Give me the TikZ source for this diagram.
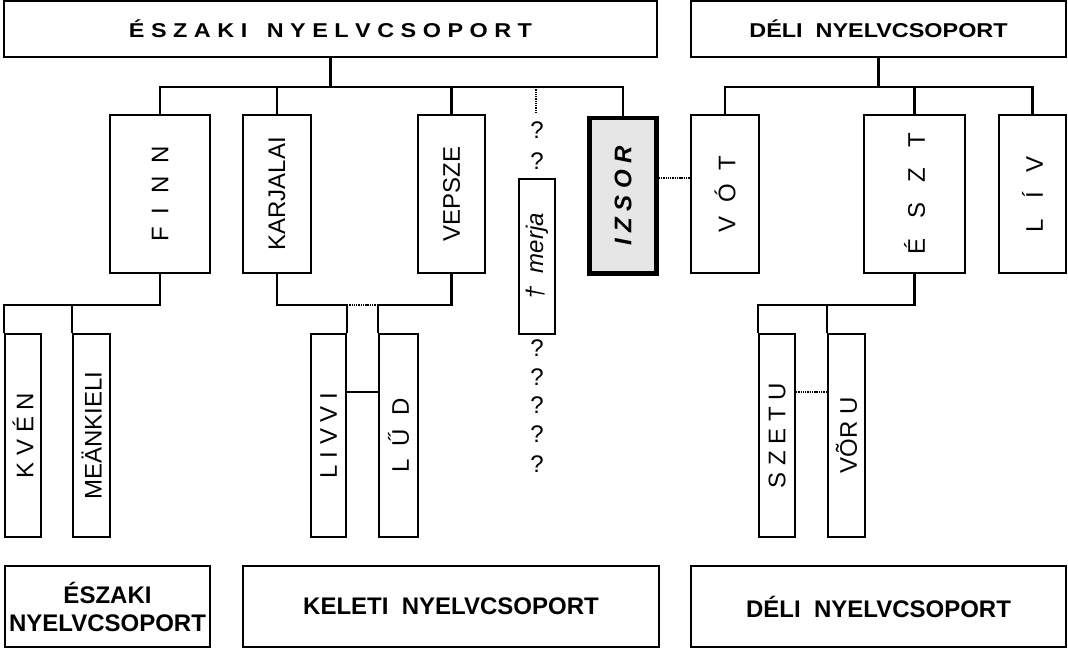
\documentclass[tikz,border=0pt]{standalone}
\usepackage{fontspec}
\setmainfont{Liberation Sans}
\usepackage{graphicx}
\usepackage{tikz}
\usetikzlibrary{fit}
\definecolor{izsorgray}{HTML}{E6E6E6}

\begin{document}
\begin{tikzpicture}[x=0.75pt, y=-0.75pt, line width=1.6pt,
    box/.style={draw, inner sep=0pt},
    txt/.style={inner sep=0pt, font=\fontsize{18}{21}\selectfont},
    headtxt/.style={inner sep=0pt, font=\bfseries\fontsize{15}{18}\selectfont},
    foottxt/.style={inner sep=0pt, align=center, font=\bfseries\fontsize{18}{21}\selectfont},
    dotline/.style={line width=1.1pt, dash pattern=on 1pt off 0.7pt},
    qmark/.style={inner sep=0pt, font=\fontsize{18}{21}\selectfont}]
    \useasboundingbox (0,0) rectangle (1068,649);

    % group headers
    \node[box, fit={(4,1) (657,57)},
          label={[headtxt]center:\scalebox{1.17}[1]{É S Z A K I~~~N Y E L V C S O P O R T}}] (north) {};
    \node[box, fit={(691,1) (1066,57)},
          label={[headtxt]center:\scalebox{1.17}[1]{DÉLI~~NYELVCSOPORT}}] (south) {};

    % languages
    \node[box, fit={(110,115) (210,273)}, label={[txt]center:\rotatebox{90}{F~~I~~N~~N}}] (finn) {};
    \node[box, fit={(243,115) (311,273)}, label={[txt]center:\rotatebox{90}{KARJALAI}}] (karjalai) {};
    \node[box, fit={(418,115) (485,273)}, label={[txt]center:\rotatebox{90}{VEPSZE}}] (vepsze) {};
    \node[box, fit={(519,179) (555,334)}, label={[txt]center:\rotatebox{90}{\itshape †~~merja}}] (merja) {};
    \node[box, fill=izsorgray, line width=3.4pt, fit={(589.5,118) (656.5,273.5)},
          label={[txt]center:\rotatebox{90}{\bfseries\itshape I Z S O R}}] (izsor) {};
    \node[box, fit={(691,115) (759,273)}, label={[txt]center:\rotatebox{90}{V~~Ó~~T}}] (vot) {};
    \node[box, fit={(864,115) (965,273)}, label={[txt]center:\rotatebox{90}{É~~~S~~~Z~~~T}}] (eszt) {};
    \node[box, fit={(999,115) (1066,273)}, label={[txt]center:\rotatebox{90}{L~~~Í~~~V}}] (liv) {};

    % dialects
    \node[box, fit={(5,334) (41,537)}, label={[txt]center:\rotatebox{90}{K V É N}}] (kven) {};
    \node[box, fit={(73,334) (110,537)}, label={[txt]center:\rotatebox{90}{MEÄNKIELI}}] (meank) {};
    \node[box, fit={(311,334) (346,537)}, label={[txt]center:\rotatebox{90}{L I V V I}}] (livvi) {};
    \node[box, fit={(379,334) (418,537)}, label={[txt]center:\rotatebox{90}{L~~Ű~~D}}] (lud) {};
    \node[box, fit={(759,334) (795,537)}, label={[txt]center:\rotatebox{90}{S Z E T U}}] (szetu) {};
    \node[box, fit={(828,334) (865,537)}, label={[txt]center:\rotatebox{90}{VÕR U}}] (voru) {};

    % bottom groups
    \node[box, fit={(5,566) (210,647)}, label={[foottxt]center:ÉSZAKI\\NYELVCSOPORT}] (fnorth) {};
    \node[box, fit={(243,566) (659,647)}, label={[foottxt]center:KELETI~~NYELVCSOPORT}] (feast) {};
    \node[box, fit={(691,566) (1066,647)}, label={[foottxt]center:DÉLI~~NYELVCSOPORT}] (fsouth) {};

    \foreach \y [count=\i] in {130,161,348,377,405,434,464}
        \node[qmark] (q\i) at (537,\y) {?};

    \coordinate (topbar) at (0,87);
    \coordinate (lowbar) at (0,305);
    \coordinate (midbar) at (0,392);
    \coordinate (izbar) at (0,178);
    \coordinate (stub) at (536,113);

    % tree lines
    \draw (north.south) -- (north.south |- topbar);
    \draw (finn.north) |- (izsor.north |- topbar) -- (izsor.north);
    \draw (karjalai.north) -- (karjalai.north |- topbar);
    \draw (vepsze.north) -- (vepsze.north |- topbar);
    \draw[dotline, line width=1.8pt] (stub |- topbar) -- (stub);

    \draw (south.south) -- (south.south |- topbar);
    \draw (vot.north) |- (liv.north |- topbar) -- (liv.north);
    \draw (eszt.north) -- (eszt.north |- topbar);

    \draw (finn.south) -- (finn.south |- lowbar) -| (kven.north west);
    \draw (meank.north west) -- (meank.north west |- lowbar);
    \draw (karjalai.south) -- (karjalai.south |- lowbar) -| (livvi.north east);
    \draw (vepsze.south) -- (vepsze.south |- lowbar) -| (lud.north west);
    \draw[dotline] (livvi.north east |- lowbar) -- (lud.north west |- lowbar);
    \draw (livvi.east |- midbar) -- (lud.west |- midbar);

    \draw (eszt.south) -- (eszt.south |- lowbar) -| (szetu.north west);
    \draw (voru.north west) -- (voru.north west |- lowbar);
    \draw[dotline] (szetu.east |- midbar) -- (voru.west |- midbar);

    \draw[dotline] (izsor.east |- izbar) -- (vot.west |- izbar);
\end{tikzpicture}
\end{document}
